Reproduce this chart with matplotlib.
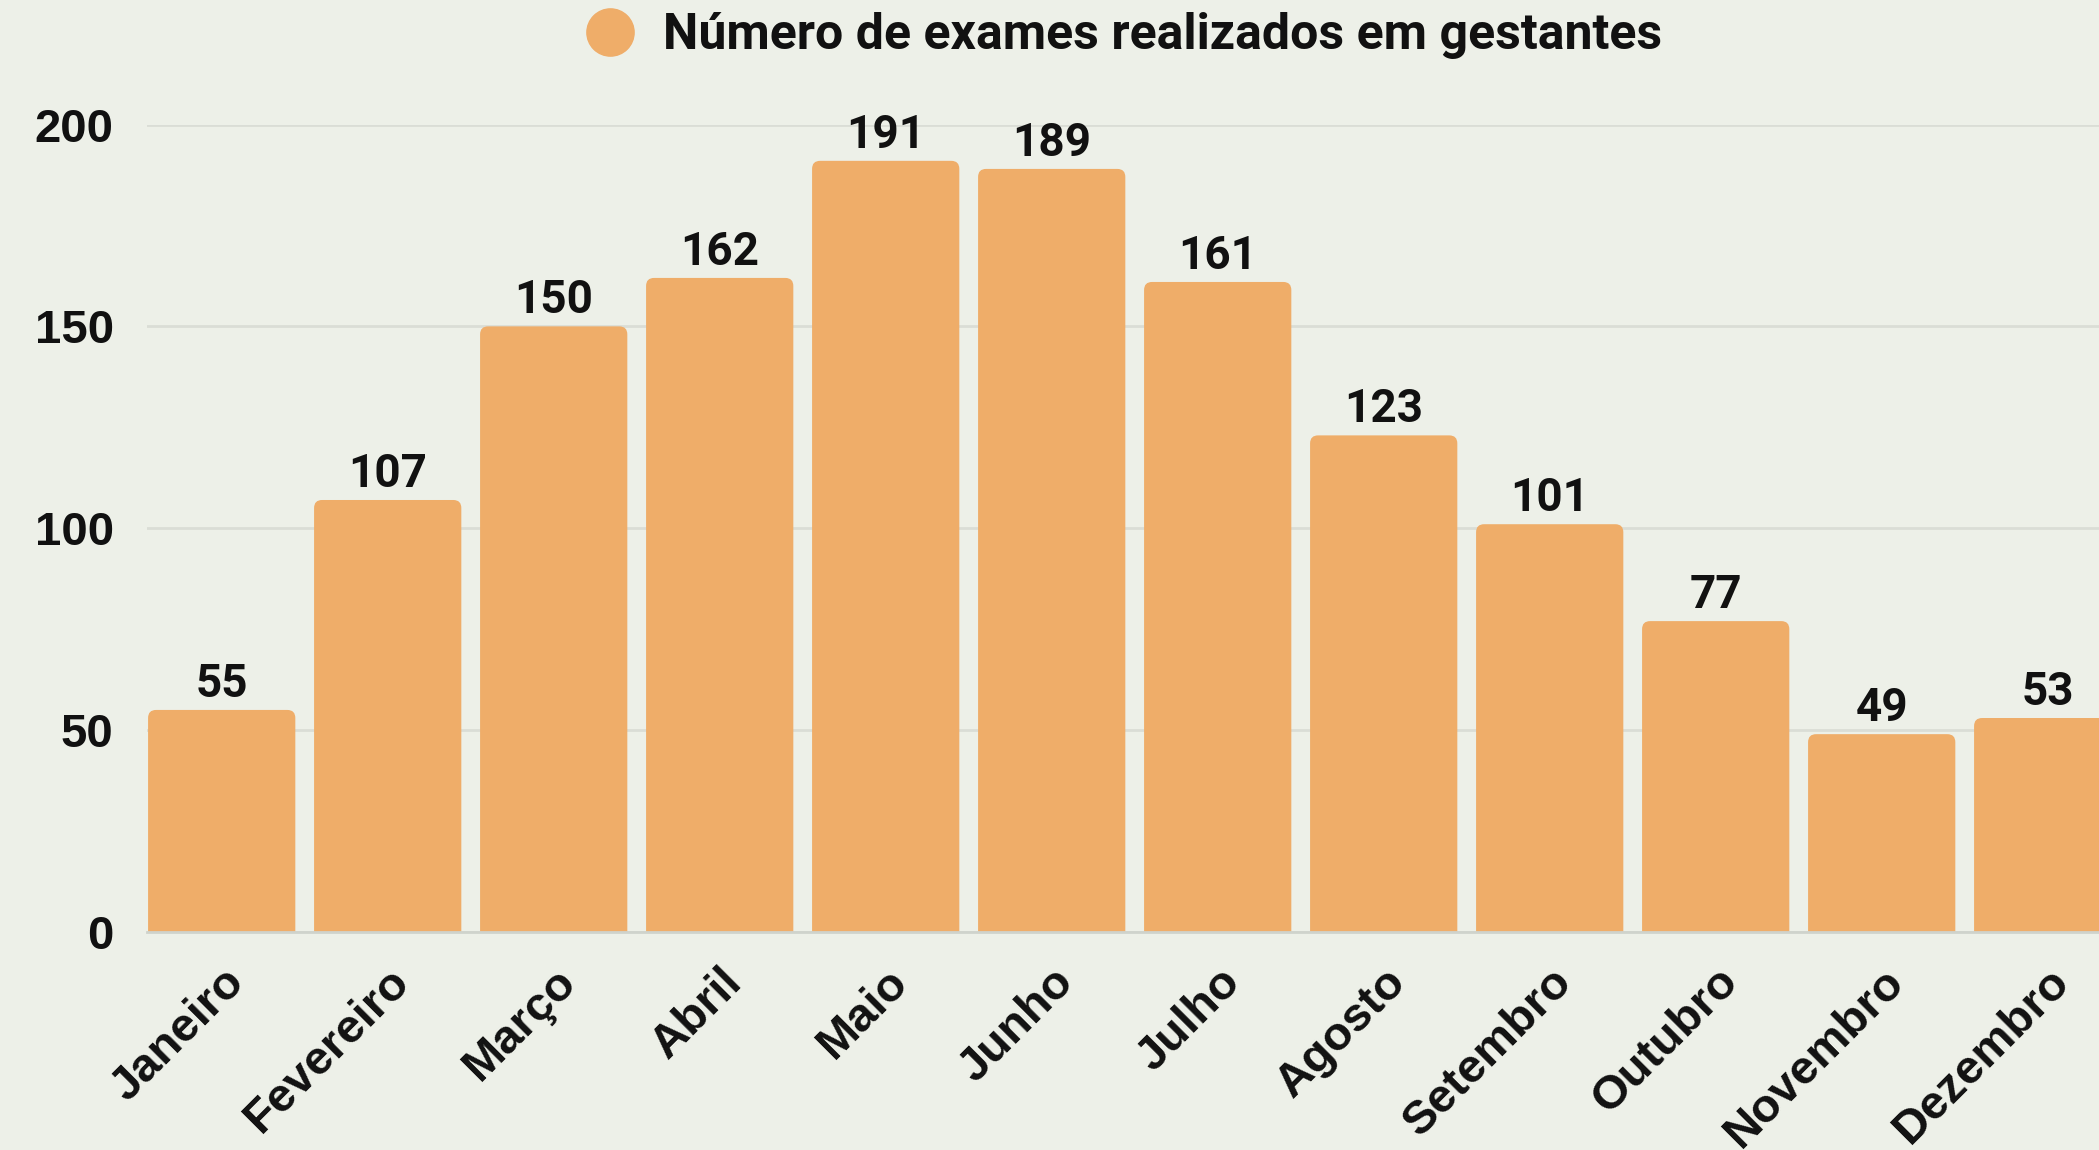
import matplotlib
matplotlib.use("Agg")
import matplotlib.pyplot as plt
from matplotlib.lines import Line2D
from matplotlib.patches import FancyBboxPatch

months = ["Janeiro", "Fevereiro", "Março", "Abril", "Maio", "Junho",
          "Julho", "Agosto", "Setembro", "Outubro", "Novembro", "Dezembro"]
values = [55, 107, 150, 162, 191, 189, 161, 123, 101, 77, 49, 53]
y_ticks = [0, 50, 100, 150, 200]
series_name = "Número de exames realizados em gestantes"

BG = "#EDF0E8"
BAR = "#EFAD69"
GRID = "#DADDD6"

W, H = 2099, 1150
fig = plt.figure(figsize=(W / 100, H / 100), dpi=100, facecolor=BG)
left = 147 / W
width = 1992 / W
bottom = (H - 932) / H
top = (H - 124.5) / H
ax = fig.add_axes([left, bottom, width, top - bottom], facecolor=BG)

x = list(range(len(months)))
bars = ax.bar(x, values, width=0.887, color=BAR, zorder=2)
ax.set_xlim(-0.45, len(months) - 0.45)
ax.set_ylim(0, 200)

# rounded top corners
ax_w_px = width * W
ax_h_px = (top - bottom) * H
px_per_x = ax_w_px / 12.0
px_per_y = ax_h_px / 200.0
r_px = 8
r_x = r_px / px_per_x
aspect = (r_px / px_per_y) / r_x
for rect in bars:
    bx, bw, bh = rect.get_x(), rect.get_width(), rect.get_height()
    p = FancyBboxPatch((bx, -6), bw, bh + 6,
                       boxstyle=f"round,pad=0,rounding_size={r_x}",
                       mutation_aspect=aspect, facecolor=BAR, edgecolor="none",
                       zorder=2)
    ax.add_patch(p)
    rect.set_visible(False)

ax.set_yticks(y_ticks)
ax.set_yticklabels([str(t) for t in y_ticks], fontfamily="Liberation Sans",
                   fontweight="bold", fontsize=34, color="#111111")
ax.set_xticks(x)
ax.set_xticklabels(months, rotation=45, ha="right", va="top", rotation_mode="anchor",
                   fontfamily="Liberation Sans", fontweight="bold", fontsize=34,
                   color="#111111")
ax.tick_params(axis="y", length=0, pad=24)
ax.tick_params(axis="x", length=0, pad=20)

ax.grid(axis="y", color=GRID, linewidth=2, zorder=0)
for s in ["top", "right", "left"]:
    ax.spines[s].set_visible(False)
ax.spines["bottom"].set_color("#CFD3CC")
ax.spines["bottom"].set_linewidth(2)
ax.spines["bottom"].set_zorder(3)

ax.bar_label(bars, labels=[str(v) for v in values], padding=3,
             fontfamily="Roboto", fontweight="bold", fontsize=33, color="#111111")

handle = Line2D([0], [0], marker="o", linestyle="none", markersize=34,
                markerfacecolor=BAR, markeredgecolor=BAR)
leg = ax.legend([handle], [series_name], loc="center", bbox_to_anchor=(0.484, 1.11),
                frameon=False, handletextpad=0.05, borderaxespad=0,
                prop={"family": "Roboto", "weight": "bold", "size": 36})
for t in leg.get_texts():
    t.set_color("#111111")

fig.savefig("out.png", dpi=100, facecolor=BG)
